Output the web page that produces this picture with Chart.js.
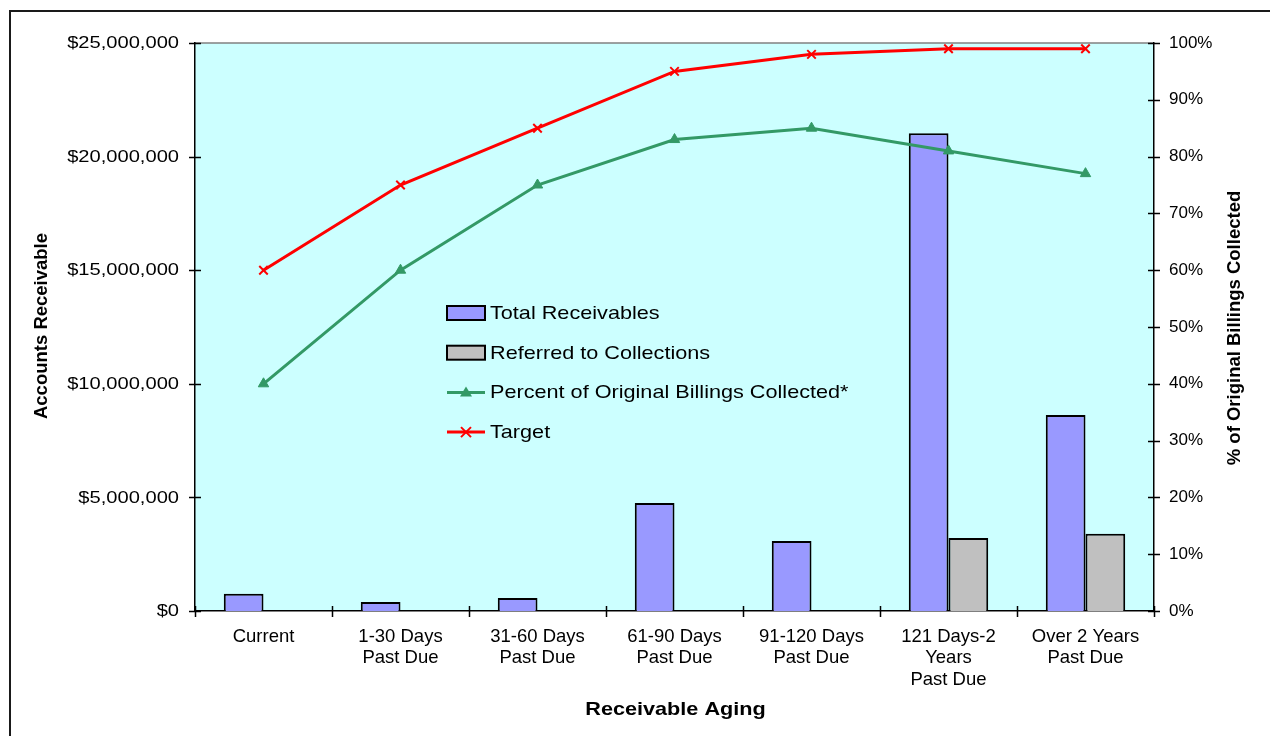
<!DOCTYPE html>
<html>
<head>
<meta charset="utf-8">
<script src="https://cdn.jsdelivr.net/npm/chart.js@4"></script>
<style>
  html, body { margin: 0; padding: 0; background: #fff; overflow: hidden; }
  #wrap { position: relative; width: 1270px; height: 736px; }
  #frame { position: absolute; left: 9px; top: 10px; width: 1400px; height: 900px;
           border: 2px solid #1a1a1a; box-sizing: border-box; pointer-events: none; }
  canvas { position: absolute; left: 0; top: 0; }
</style>
</head>
<body>
<div id="wrap">
  <div id="frame"></div>
  <canvas id="chart" width="1270" height="736"></canvas>
</div>
<script>
// Aging buckets along the category axis
const categories = [
  'Current',
  ['1-30 Days', 'Past Due'],
  ['31-60 Days', 'Past Due'],
  ['61-90 Days', 'Past Due'],
  ['91-120 Days', 'Past Due'],
  ['121 Days-2', 'Years', 'Past Due'],
  ['Over 2 Years', 'Past Due']
];

// Dollar amounts (left axis)
const totalReceivables = [760000, 400000, 570000, 4750000, 3080000, 21030000, 8630000];
const referredToCollections = [null, null, null, null, null, 3210000, 3400000];

// Percentages (right axis)
const percentCollected = [40, 60, 75, 83, 85, 81, 77];
const targetPercent = [60, 75, 85, 95, 98, 99, 99];

// Axis ticks
const dollarTicks = { min: 0, max: 25000000, step: 5000000 };
const percentTicks = { min: 0, max: 100, step: 10 };

const seriesNames = [
  'Total Receivables',
  'Referred to Collections',
  'Percent of Original Billings Collected*',
  'Target'
];
const axisTitles = {
  x: 'Receivable Aging',
  y: 'Accounts Receivable',
  y1: '% of Original Billings Collected'
};

const PLOT_BG = '#CCFFFF';
const BLUE = '#9999FF';
const GREY = '#C0C0C0';
const GREEN = '#339966';
const RED = '#FF0000';

const ARIAL = '"Liberation Sans", Arial, sans-serif';
const WIDE_X = 1.17;   // horizontal stretch of the wide-set text

// Draw text squeezed/stretched horizontally around its anchor
function wideText(ctx, text, x, y, align, sx) {
  ctx.save();
  ctx.translate(x, y);
  ctx.scale(sx, 1);
  ctx.textAlign = align;
  ctx.fillText(text, 0, 0);
  ctx.restore();
}

// Plot background, axis titles, dollar labels, crossing tick marks and the in-plot legend
const decorations = {
  id: 'decorations',
  beforeDraw(chart) {
    const { ctx, chartArea: a } = chart;
    ctx.save();
    ctx.fillStyle = PLOT_BG;
    ctx.fillRect(a.left, a.top, a.right - a.left, a.bottom - a.top);
    ctx.strokeStyle = '#808080';
    ctx.lineWidth = 1.5;
    ctx.beginPath();
    ctx.moveTo(a.left, a.top);
    ctx.lineTo(a.right, a.top);
    ctx.stroke();
    ctx.restore();
  },
  afterDatasetsDraw(chart) {
    const { ctx, chartArea: a, scales } = chart;
    ctx.save();
    ctx.strokeStyle = '#000';
    ctx.lineWidth = 1.5;
    ctx.beginPath();
    scales.y.ticks.forEach(t => {
      const py = Math.round(scales.y.getPixelForValue(t.value)) + 0.5;
      ctx.moveTo(a.left - 6, py); ctx.lineTo(a.left + 6, py);
    });
    scales.y1.ticks.forEach(t => {
      const py = Math.round(scales.y1.getPixelForValue(t.value)) + 0.5;
      ctx.moveTo(a.right - 6, py); ctx.lineTo(a.right + 6, py);
    });
    const n = categories.length;
    for (let i = 0; i <= n; i++) {
      const px = Math.round(a.left + i * (a.right - a.left) / n) + 0.5;
      ctx.moveTo(px, a.bottom - 5); ctx.lineTo(px, a.bottom + 6);
    }
    ctx.stroke();
    ctx.restore();
  },
  afterDraw(chart) {
    const { ctx, chartArea: a, scales } = chart;
    ctx.save();
    ctx.fillStyle = '#000';
    ctx.textBaseline = 'middle';

    // dollar axis labels, taken from the scale's own ticks
    ctx.font = '17.2px ' + ARIAL;
    scales.y.ticks.forEach(t => {
      wideText(ctx, t.label, a.left - 16, scales.y.getPixelForValue(t.value) + 0.5, 'right', WIDE_X);
    });

    // x title
    ctx.font = 'bold 18.5px ' + ARIAL;
    wideText(ctx, axisTitles.x, (a.left + a.right) / 2 + 1, a.bottom + 99, 'center', WIDE_X);

    // y titles, both reading bottom to top
    ctx.textAlign = 'center';
    const midY = (a.top + a.bottom) / 2;
    ctx.save();
    ctx.translate(42, midY - 1);
    ctx.rotate(-Math.PI / 2);
    ctx.fillText(axisTitles.y, 0, 0);
    ctx.restore();
    ctx.save();
    ctx.translate(a.right + 81, midY + 1);
    ctx.rotate(-Math.PI / 2);
    ctx.fillText(axisTitles.y1, 0, 0);
    ctx.restore();

    // legend
    const lx = a.left + 252, ly = a.top + 270, gap = 39.7, sw = 38;
    ctx.font = '18.5px ' + ARIAL;
    chart.data.datasets.forEach((ds, i) => {
      const cy = ly + i * gap;
      if (ds.type === 'bar') {
        ctx.fillStyle = ds.backgroundColor;
        ctx.fillRect(lx, cy - 7, sw, 14);
        ctx.strokeStyle = '#000';
        ctx.lineWidth = 2;
        ctx.strokeRect(lx, cy - 7, sw, 14);
      } else {
        ctx.strokeStyle = ds.borderColor;
        ctx.lineWidth = 3;
        ctx.beginPath();
        ctx.moveTo(lx, cy); ctx.lineTo(lx + sw, cy);
        ctx.stroke();
        const mx = lx + sw / 2;
        if (ds.pointStyle === 'triangle') {
          ctx.fillStyle = ds.borderColor;
          ctx.beginPath();
          ctx.moveTo(mx, cy - 6); ctx.lineTo(mx + 6, cy + 4); ctx.lineTo(mx - 6, cy + 4);
          ctx.closePath(); ctx.fill();
        } else {
          ctx.lineWidth = 2;
          ctx.beginPath();
          ctx.moveTo(mx - 5, cy - 5); ctx.lineTo(mx + 5, cy + 5);
          ctx.moveTo(mx + 5, cy - 5); ctx.lineTo(mx - 5, cy + 5);
          ctx.stroke();
        }
      }
      ctx.fillStyle = '#000';
      wideText(ctx, ds.label, lx + sw + 5, cy + 1, 'left', WIDE_X);
    });
    ctx.restore();
  }
};

new Chart(document.getElementById('chart'), {
  data: {
    labels: categories,
    datasets: [
      {
        type: 'bar', label: seriesNames[0], data: totalReceivables, yAxisID: 'y',
        backgroundColor: BLUE, borderColor: '#000', borderWidth: 2,
        categoryPercentage: 0.58, barPercentage: 1.0, order: 1
      },
      {
        type: 'bar', label: seriesNames[1], data: referredToCollections, yAxisID: 'y',
        backgroundColor: GREY, borderColor: '#000', borderWidth: 2,
        categoryPercentage: 0.58, barPercentage: 1.0, order: 1
      },
      {
        type: 'line', label: seriesNames[2], data: percentCollected, yAxisID: 'y1',
        borderColor: GREEN, backgroundColor: GREEN, borderWidth: 3, tension: 0,
        pointStyle: 'triangle', pointRadius: 6, pointBorderWidth: 1, order: 0
      },
      {
        type: 'line', label: seriesNames[3], data: targetPercent, yAxisID: 'y1',
        borderColor: RED, backgroundColor: RED, borderWidth: 3, tension: 0,
        pointStyle: 'crossRot', pointRadius: 6, pointBorderWidth: 2, order: 0
      }
    ]
  },
  options: {
    responsive: false,
    animation: false,
    layout: { padding: { top: 43, left: 0, right: 0, bottom: 0 } },
    plugins: { legend: { display: false }, tooltip: { enabled: false } },
    scales: {
      x: {
        type: 'category',
        grid: { display: false, drawTicks: false },
        border: { display: true, color: '#000', width: 1.5 },
        ticks: {
          color: '#000', padding: 15, maxRotation: 0, autoSkip: false,
          font: { family: ARIAL, size: 18.5, lineHeight: 1.16 }
        },
        afterFit(s) { s.height = 125; }
      },
      y: {
        position: 'left',
        min: dollarTicks.min, max: dollarTicks.max,
        grid: { display: false, drawTicks: false },
        border: { display: true, color: '#000', width: 1.5 },
        ticks: {
          display: false,
          stepSize: dollarTicks.step,
          callback: v => '$' + Number(v).toLocaleString('en-US')
        },
        afterFit(s) { s.width = 195; }
      },
      y1: {
        position: 'right',
        min: percentTicks.min, max: percentTicks.max,
        grid: { display: false, drawTicks: false },
        border: { display: true, color: '#000', width: 1.5 },
        ticks: {
          stepSize: percentTicks.step, color: '#000', padding: 15,
          font: { family: ARIAL, size: 17 },
          callback: v => v + '%'
        },
        afterFit(s) { s.width = 116; }
      }
    }
  },
  plugins: [decorations]
});
</script>
</body>
</html>
